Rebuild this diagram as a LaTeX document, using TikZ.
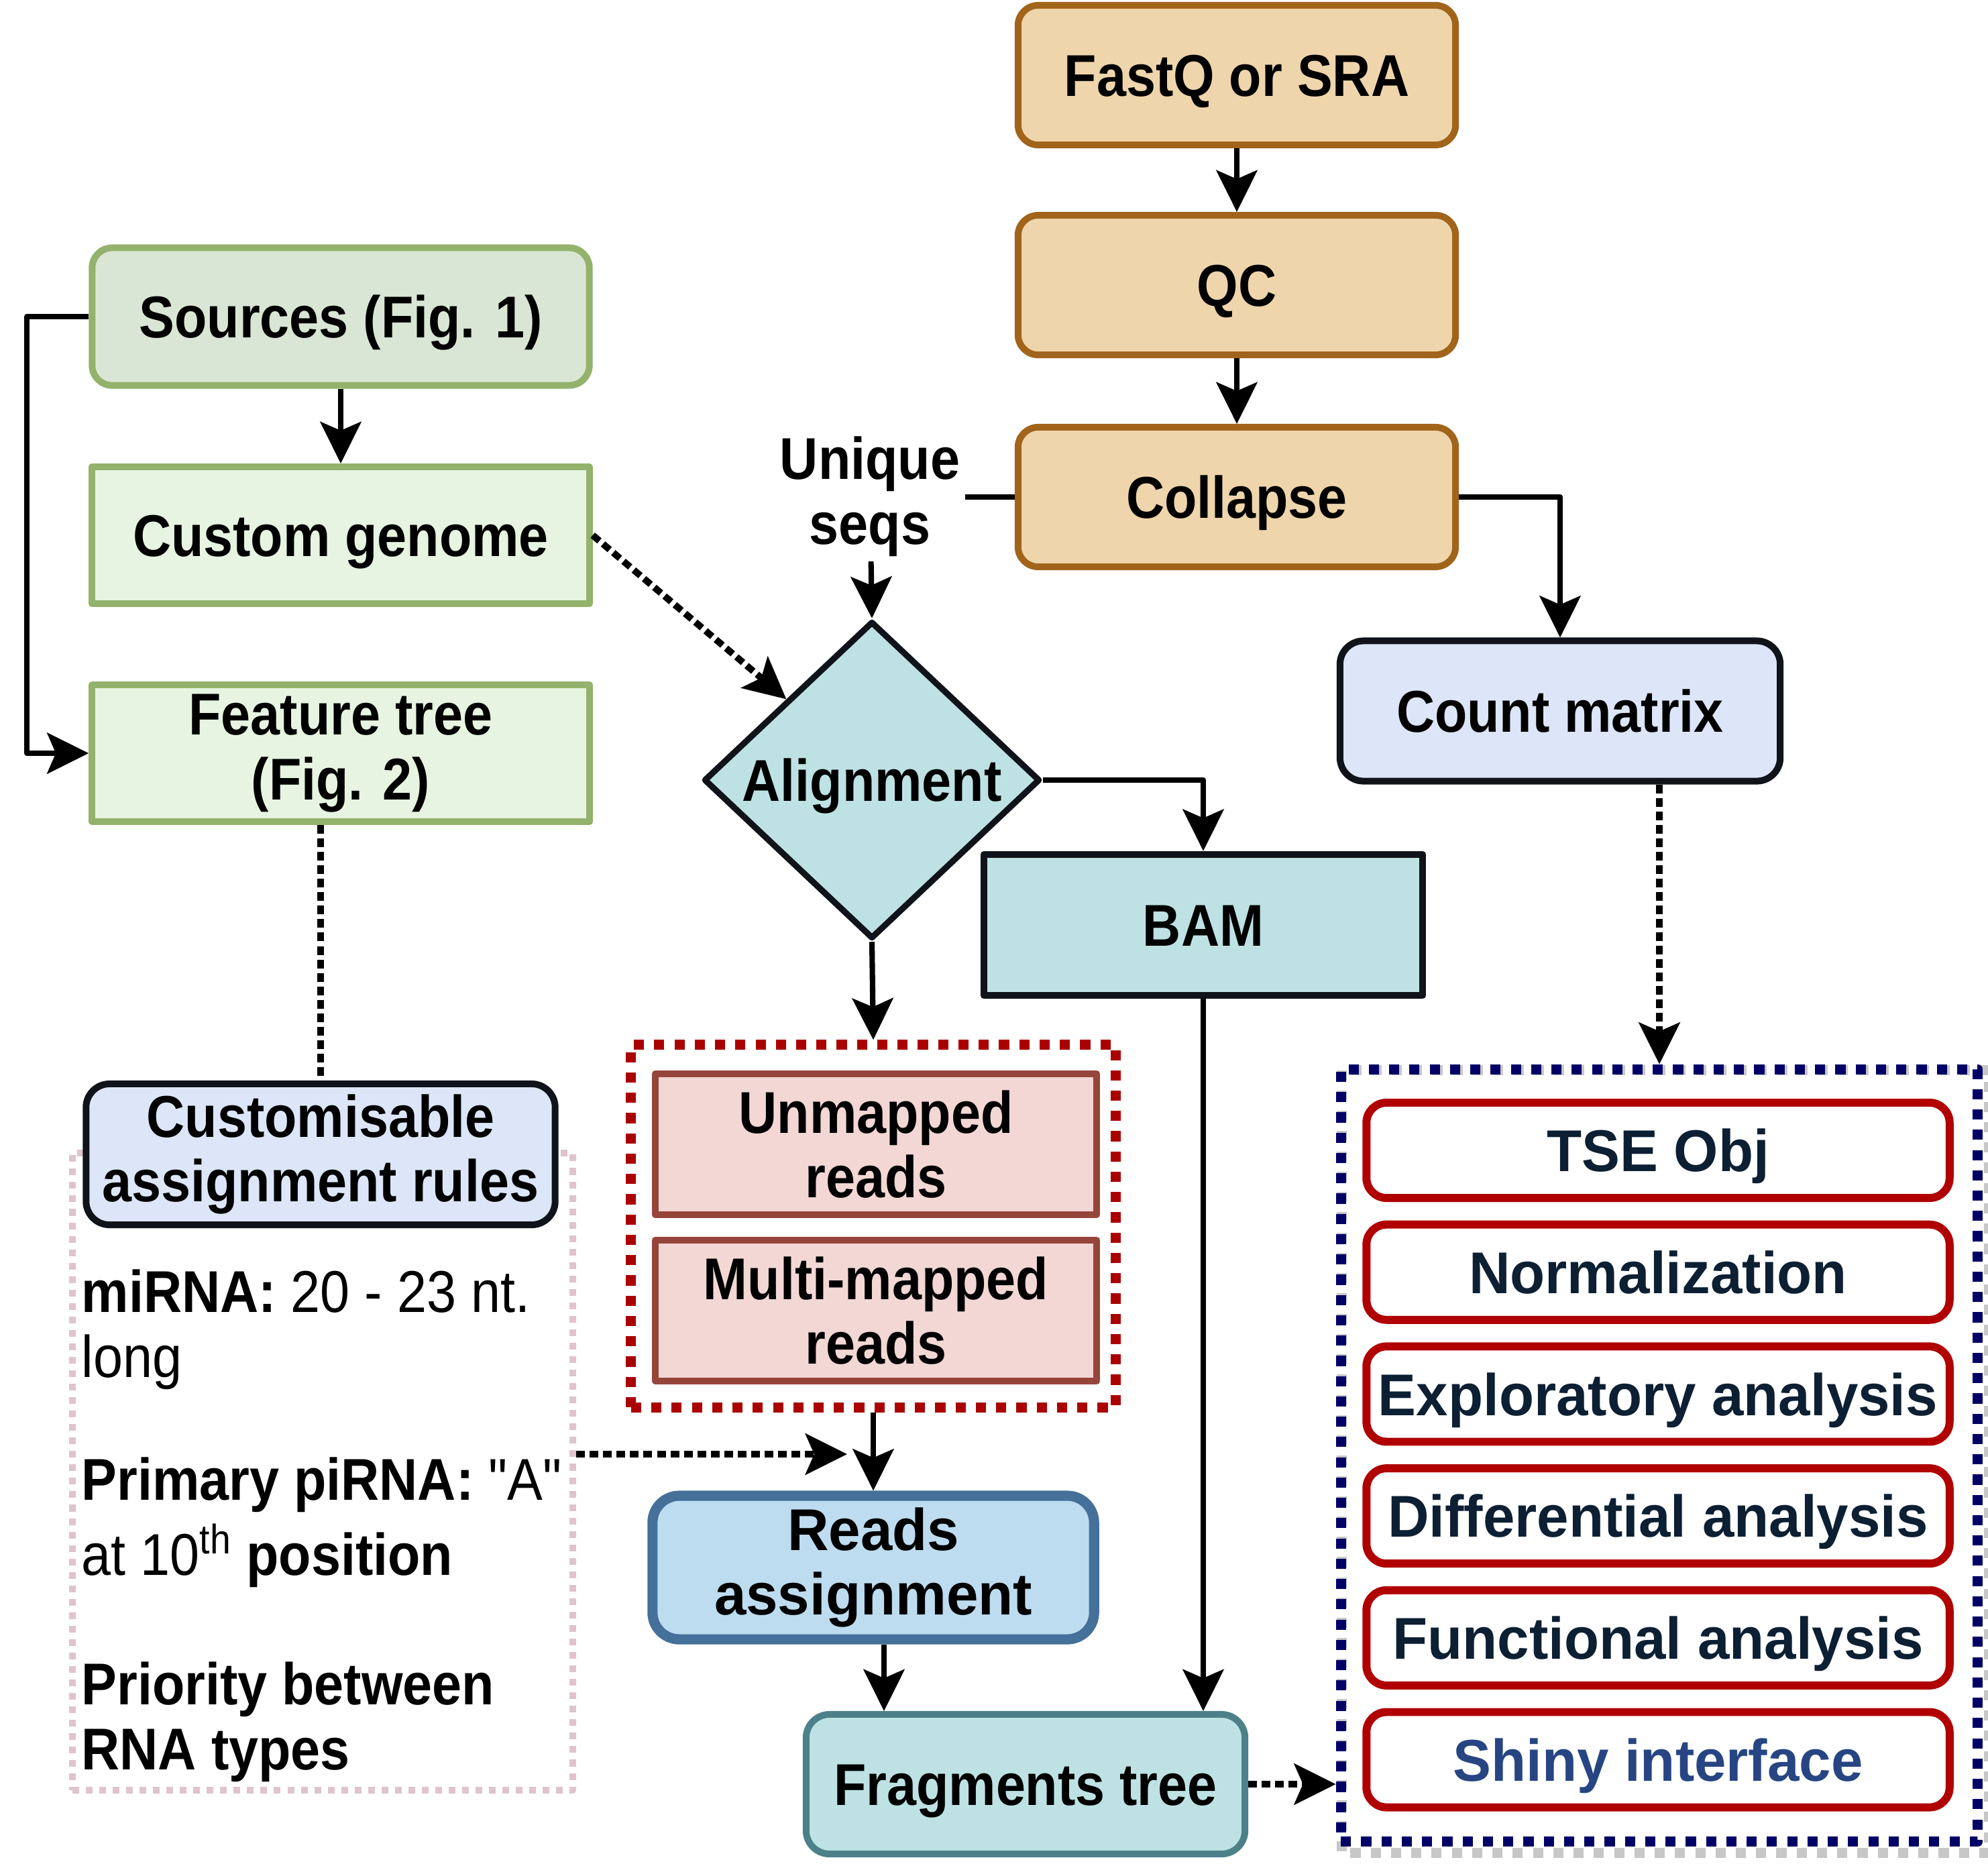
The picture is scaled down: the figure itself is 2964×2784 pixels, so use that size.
\documentclass[tikz,border=0pt]{standalone}
\usepackage{fontspec}
\setmainfont{Liberation Sans}[FakeStretch=0.9]
\newfontfamily\widefont{Liberation Sans}[FakeStretch=0.97]
\newfontfamily\quotefont{Liberation Sans}[FakeStretch=0.9]
\usepackage{tikz}
\usetikzlibrary{arrows.meta, calc, positioning, shapes.geometric, backgrounds}
\definecolor{orangefill}{HTML}{EFD5AB}
\definecolor{orangeline}{HTML}{A1641A}
\definecolor{sourcefill}{HTML}{DAE6D5}
\definecolor{greenfill}{HTML}{E6F4E1}
\definecolor{greenline}{HTML}{93B26B}
\definecolor{bluefill}{HTML}{DCE6F8}
\definecolor{darkline}{HTML}{10131A}
\definecolor{tealfill}{HTML}{BEE2E3}
\definecolor{tealline}{HTML}{4C8189}
\definecolor{readsfill}{HTML}{BDDCEF}
\definecolor{readsline}{HTML}{44709A}
\definecolor{pinkfill}{HTML}{F2D7D5}
\definecolor{pinkline}{HTML}{96453A}
\definecolor{reddash}{HTML}{AA0000}
\definecolor{redbox}{HTML}{B00000}
\definecolor{navydash}{HTML}{000066}
\definecolor{navytext}{HTML}{0C1F33}
\definecolor{shinytext}{HTML}{274583}
\definecolor{pinkdot}{HTML}{DFC4CC}

\begin{document}
\begin{tikzpicture}[x=0.01cm, y=-0.01cm, line join=round,
    >={Stealth[length=0.62cm,width=0.61cm,inset=0.13cm]},
    font=\fontsize{25}{27.5}\selectfont\bfseries,
    every node/.style={inner sep=2pt, align=center},
    oneline/.style={text height=18pt, text depth=0pt},
    flow/.style={->, line width=2.3pt},
    link/.style={line width=2.3pt},
    dots/.style={line width=2.85pt, dash pattern=on 3.7pt off 2pt},
    orangebox/.style={oneline, draw=orangeline, fill=orangefill, line width=2.85pt, rounded corners=0.3cm, minimum width=6.52cm, minimum height=2.08cm},
    greenbox/.style={draw=greenline, fill=greenfill, line width=2.85pt, minimum width=7.41cm, minimum height=2.04cm},
    bluebox/.style={draw=darkline, fill=bluefill, line width=2.85pt, rounded corners=0.35cm},
    readbox/.style={draw=pinkline, fill=pinkfill, line width=2.85pt, minimum width=6.58cm, minimum height=2.1cm},
    resbox/.style={oneline, draw=redbox, fill=white, line width=3.4pt, rounded corners=0.3cm, minimum width=8.69cm, minimum height=1.42cm, font=\fontsize{25}{27.5}\widefont\bfseries}]

    \useasboundingbox (0,0) rectangle (2964,2784);

    % input and preprocessing
    \node[orangebox] (fastq) at (1844,112) {FastQ or SRA};
    \node[orangebox] (qc) at (1844,425) {QC};
    \node[orangebox] (collapse) at (1844,741) {Collapse};
    \node (unique) at (1297,740) {Unique\\seqs};

    % annotation side
    \node[greenbox, oneline, fill=sourcefill, rounded corners=0.3cm, minimum height=2.05cm] (sources) at (508,472) {Sources (Fig. 1)};
    \node[greenbox, oneline] (genome) at (508,798) {Custom genome};
    \node[greenbox] (feature) at (508,1123) {Feature tree\\(Fig. 2)};

    % alignment
    \node[diamond, aspect=1.06, draw=darkline, fill=tealfill, line width=2.6pt, minimum width=5.01cm, minimum height=4.73cm, inner sep=0pt, oneline] (align) at (1300,1163) {Alignment};
    \node[oneline, draw=darkline, fill=tealfill, line width=3pt, minimum width=6.54cm, minimum height=2.1cm] (bam) at (1794,1379) {BAM};
    \node[bluebox, oneline, minimum width=6.56cm, minimum height=2.09cm] (count) at (2326,1060) {Count matrix};

    % reads not used
    \node[draw=reddash, line width=4.3pt, dash pattern=on 4.3pt off 4.3pt, minimum width=7.22cm, minimum height=5.4cm] (unused) at (1302,1828) {};
    \node[readbox] (unmapped) at (1306,1706) {Unmapped\\reads};
    \node[readbox] (multi) at (1306,1954) {Multi-mapped\\reads};

    % assignment
    \node[draw=readsline, fill=readsfill, line width=4.3pt, rounded corners=0.4cm, minimum width=6.58cm, minimum height=2.14cm, font=\fontsize{25}{27.5}\widefont\bfseries] (reads) at (1302,2337) {Reads\\assignment};
    \node[oneline, draw=tealline, fill=tealfill, line width=2.85pt, rounded corners=0.35cm, minimum width=6.54cm, minimum height=2.08cm] (frags) at (1529,2660) {Fragments tree};

    % rules
    \node[draw=pinkdot, line width=2.85pt, dash pattern=on 2.85pt off 2.85pt, minimum width=7.46cm, minimum height=9.49cm] (rulebox) at (481,2194) {};
    \node[bluebox, minimum width=6.99cm, minimum height=2.1cm] (rules) at (478,1721) {Customisable\\assignment rules};
    \node[anchor=west, align=left, inner sep=0pt] (rule1) at (121,1982) {miRNA: \mdseries 20 - 23 nt.\\\mdseries long};
    \node[anchor=west, align=left, inner sep=0pt] (rule2) at (121,2270) {Primary piRNA: {\quotefont\mdseries "A"}\\[4.3pt]\mdseries at 10\textsuperscript{th} \bfseries position};
    \node[anchor=west, align=left, inner sep=0pt] (rule3) at (121,2567) {Priority between\\RNA types};

    % downstream analysis
    \node[draw=navydash, line width=4.3pt, dash pattern=on 4.3pt off 4.3pt, minimum width=9.49cm, minimum height=11.51cm] (results) at (2474,2170) {};
    \begin{scope}[on background layer]
      \draw[black!22, line width=4.3pt, dash pattern=on 4.3pt off 4.3pt] ([shift={(9,9)}]results.north west) rectangle ([shift={(9,9)}]results.south east);
    \end{scope}
    \foreach \nm/\txt/\col [count=\i from 0] in {tse/TSE Obj/navytext, norm/Normalization/navytext, expl/Exploratory analysis/navytext, diff/Differential analysis/navytext, func/Functional analysis/navytext, shiny/Shiny interface/shinytext}
      \node[resbox, text=\col] (\nm) at (2472,1715+181.7*\i) {\txt};

    % connectors
    \draw[flow] (fastq) -- (qc);
    \draw[flow] (qc) -- (collapse);
    \draw[link] (collapse.west) -- (collapse.west -| unique.east);
    \draw[flow] (unique) -- (align.north);
    \draw[flow] (collapse.east) -| (count.north);
    \draw[flow] (align.east) -| (bam.north);
    \draw[flow] (align.south) -- (unused.north);
    \draw[flow] (unused.south) -- (reads.north);
    \draw[flow] ([xshift=0.16cm]reads.south) -- ([xshift=0.16cm]reads.south |- frags.north);
    \draw[flow] (bam.south) -- (bam.south |- frags.north);
    \draw[flow] (sources.west) -- ++(-92,0) |- (feature.west);
    \draw[flow] (sources) -- (genome);
    \draw[->, dots] (genome.east) -- (align.north west);
    \draw[dots] (rules.north |- feature.south) -- (rules.north);
    \draw[->, dots] (results.north |- count.south) -- (results.north);
    \draw[->, dots] (frags.east) -- (frags.east -| results.west);
    \coordinate (into) at (1263,2168);
    \draw[->, dots] (into -| rulebox.east) -- (into);

\end{tikzpicture}
\end{document}
